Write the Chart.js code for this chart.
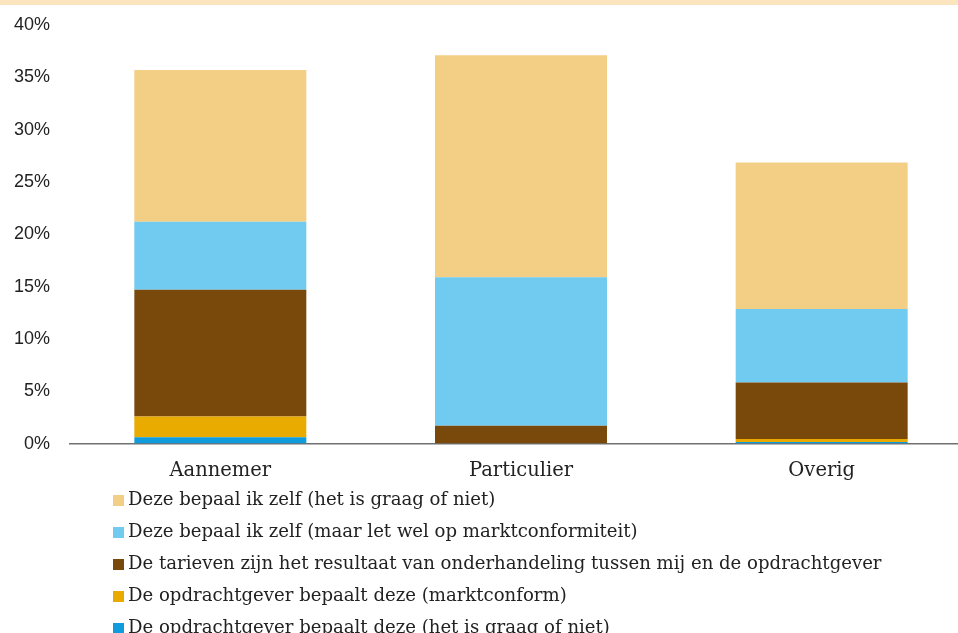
<!DOCTYPE html>
<html>
<head>
<meta charset="utf-8">
<script src="https://cdn.jsdelivr.net/npm/chart.js@4"></script>
<style>
    html, body { margin: 0; padding: 0; background: #fff; overflow: hidden; width: 958px; height: 633px; }
    #band { position: absolute; left: 0; top: 0; width: 958px; height: 5px; background: #FCE4BE; z-index: 2; }
    #wrap { position: absolute; left: 0; top: 0; width: 972px; height: 499px; }
    #legend { position: absolute; left: 113px; top: 483px; font-family: 'DejaVu Serif', serif; font-size: 18.1px; color: #222; z-index: 3; }
    #legend .item { height: 32px; line-height: 32px; white-space: nowrap; }
    #legend .box { display: inline-block; width: 11px; height: 11px; margin-right: 4px; vertical-align: -1px; }
</style>
</head>
<body>
<div id="band"></div>
<div id="wrap"><canvas id="chart" width="972" height="499"></canvas></div>
<div id="legend"></div>
<script>
// categories
var categories = ['Aannemer', 'Particulier', 'Overig'];

// series (bottom to top of the stack), in %
var opdrachtgeverNiet = [0.6, 0, 0.15];
var opdrachtgeverMarkt = [2.0, 0, 0.3];
var onderhandeling = [12.1, 1.7, 5.4];
var zelfMarkt = [6.5, 14.2, 7.0];
var zelfNiet = [14.5, 21.2, 14.0];

var seriesNames = [
    'De opdrachtgever bepaalt deze (het is graag of niet)',
    'De opdrachtgever bepaalt deze (marktconform)',
    'De tarieven zijn het resultaat van onderhandeling tussen mij en de opdrachtgever',
    'Deze bepaal ik zelf (maar let wel op marktconformiteit)',
    'Deze bepaal ik zelf (het is graag of niet)'
];
var seriesColors = ['#0F9BDC', '#E9AB00', '#78490A', '#71CAEF', '#F3CE85'];

var yTicks = [0, 5, 10, 15, 20, 25, 30, 35, 40];

var seriesData = [opdrachtgeverNiet, opdrachtgeverMarkt, onderhandeling, zelfMarkt, zelfNiet];
var datasets = seriesData.map(function (values, i) {
    return {
        label: seriesNames[i],
        data: values,
        backgroundColor: seriesColors[i],
        borderWidth: 0,
        barPercentage: 0.572,
        categoryPercentage: 1
    };
});

var ctx = document.getElementById('chart').getContext('2d');
var chart = new Chart(ctx, {
    type: 'bar',
    data: { labels: categories, datasets: datasets },
    options: {
        responsive: false,
        animation: false,
        layout: { padding: { left: 0, top: 25, right: 0, bottom: 0 } },
        plugins: {
            legend: { display: false },
            tooltip: { enabled: false }
        },
        scales: {
            x: {
                stacked: true,
                grid: { display: false, drawTicks: false },
                border: { display: true, color: '#707070', width: 1.5 },
                ticks: {
                    color: '#222',
                    padding: 16,
                    font: { family: 'DejaVu Serif', size: 19.5 }
                }
            },
            y: {
                stacked: true,
                min: 0,
                max: 40,
                afterBuildTicks: function (scale) {
                    scale.ticks = yTicks.map(function (v) { return { value: v }; });
                },
                afterFit: function (scale) {
                    scale.width = 70;
                    scale.paddingTop = 0;
                },
                grid: { display: false, drawTicks: false },
                border: { display: false },
                ticks: {
                    color: '#222',
                    padding: 20,
                    font: { family: 'Liberation Sans', size: 18 },
                    callback: function (v) { return v + '%'; }
                }
            }
        }
    }
});

// legend, top of stack first
var legend = document.getElementById('legend');
for (var i = datasets.length - 1; i >= 0; i--) {
    var row = document.createElement('div');
    row.className = 'item';
    row.innerHTML = '<span class="box" style="background:' + seriesColors[i] + '"></span>' + seriesNames[i];
    legend.appendChild(row);
}
</script>
</body>
</html>
